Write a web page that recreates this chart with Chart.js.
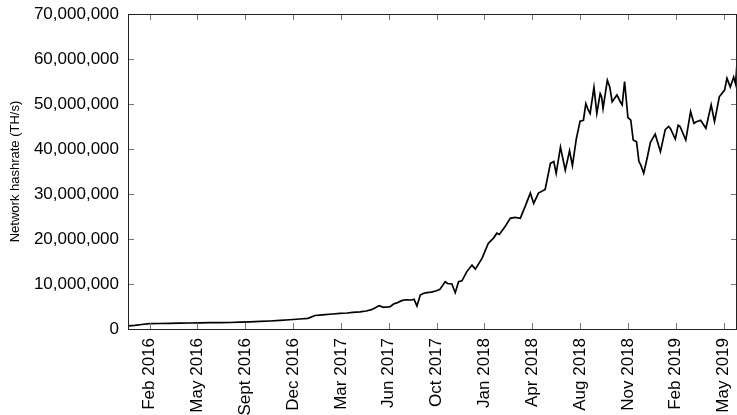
<!DOCTYPE html>
<html>
<head>
<meta charset="utf-8">
<script src="https://cdn.jsdelivr.net/npm/chart.js@4.4.1/dist/chart.umd.min.js"></script>
<style>
  html, body { margin: 0; padding: 0; background: #fff; }
  #wrap { width: 737px; height: 415px; }
</style>
</head>
<body>
<div id="wrap"><canvas id="chart"></canvas></div>
<script>
// days since 1 Jan 2016
const dayIndex = [
  0, 14, 29, 45, 66, 87, 108, 129, 150, 171, 192, 213, 234, 255, 276, 297, 318, 338, 359, 376,
  391, 401, 412, 428, 443, 458, 470, 485, 498, 509, 518, 525, 534, 544, 548, 555, 562, 572, 581, 593,
  598, 604, 611, 617, 625, 634, 645, 652, 663, 668, 677, 684, 691, 698, 708, 719, 726, 740, 753, 764,
  771, 776, 788, 799, 809, 820, 830, 841, 848, 858, 872, 883, 890, 895, 904, 914, 923, 929, 937, 945,
  952, 957, 962, 966, 974, 980, 987, 990, 993, 1002, 1007, 1012, 1022, 1029, 1033, 1038, 1045, 1051, 1056, 1063,
  1068, 1072, 1078, 1085, 1092, 1102, 1113, 1123, 1130, 1134, 1144, 1150, 1154, 1166, 1176, 1183, 1187, 1197, 1208, 1219,
  1226, 1236, 1247, 1252, 1259, 1266, 1270, 1273
];
// network hashrate, millions of TH/s
const hashrateMillions = [
  0.7, 0.8, 1.0, 1.18, 1.22, 1.27, 1.3, 1.33, 1.38, 1.4, 1.42, 1.45, 1.52, 1.58, 1.68, 1.78, 1.92, 2.05, 2.22, 2.38,
  3.0, 3.1, 3.2, 3.33, 3.48, 3.55, 3.7, 3.8, 4.0, 4.3, 4.8, 5.2, 4.8, 4.9, 4.95, 5.55, 5.8, 6.3, 6.5, 6.45,
  6.6, 5.1, 7.55, 7.9, 8.07, 8.2, 8.5, 8.8, 10.5, 10.1, 10.0, 8.07, 10.5, 10.7, 12.7, 14.2, 13.3, 15.7, 19.0, 20.2,
  21.3, 21.0, 22.7, 24.6, 24.8, 24.6, 27.2, 30.2, 27.9, 30.2, 31.0, 36.8, 37.2, 34.6, 40.4, 35.3, 39.6, 36.3, 42.2, 46.2,
  46.4, 50.1, 48.7, 47.9, 53.7, 47.9, 52.3, 51.6, 49.0, 55.3, 53.8, 50.5, 52.0, 50.5, 49.8, 55.0, 47.0, 46.4, 42.0, 41.6,
  37.2, 36.4, 34.6, 37.9, 41.5, 43.3, 39.4, 44.3, 45.0, 44.5, 42.2, 45.3, 45.0, 42.0, 48.3, 45.7, 46.0, 46.4, 44.6, 49.8,
  46.1, 51.6, 53.1, 55.7, 53.8, 56.0, 54.5, 59.0
];
const tickDays = [45, 145, 245, 345, 445, 545, 645, 745, 845, 945, 1045, 1145, 1245];
const tickLabels = ['Feb 2016', 'May 2016', 'Sept 2016', 'Dec 2016', 'Mar 2017', 'Jun 2017', 'Oct 2017',
  'Jan 2018', 'Apr 2018', 'Aug 2018', 'Nov 2018', 'Feb 2019', 'May 2019'];
const yTicks = [0, 10, 20, 30, 40, 50, 60, 70];

function withCommas(n) {
  return String(n).replace(/\B(?=(\d{3})+(?!\d))/g, ',');
}

// frame round the plot with small inward ticks on all four sides
const framePlugin = {
  id: 'frame',
  afterDraw(chart) {
    const { ctx, chartArea: a, scales } = chart;
    ctx.save();
    ctx.strokeStyle = '#777';
    ctx.lineWidth = 1;
    ctx.beginPath();
    scales.y.ticks.forEach(t => {
      const py = Math.round(scales.y.getPixelForValue(t.value)) + 0.5;
      ctx.moveTo(a.left, py); ctx.lineTo(a.left + 6, py);
      ctx.moveTo(a.right, py); ctx.lineTo(a.right - 6, py);
    });
    scales.x.ticks.forEach(t => {
      const px = Math.round(scales.x.getPixelForValue(t.value)) + 0.5;
      ctx.moveTo(px, a.bottom); ctx.lineTo(px, a.bottom - 6);
      ctx.moveTo(px, a.top); ctx.lineTo(px, a.top + 6);
    });
    ctx.stroke();
    ctx.strokeStyle = '#222';
    ctx.strokeRect(Math.round(a.left) + 0.5, Math.round(a.top) + 0.5,
      Math.round(a.right - a.left) - 1, Math.round(a.bottom - a.top));
    ctx.restore();
  }
};

new Chart(document.getElementById('chart'), {
  type: 'line',
  data: {
    datasets: [{
      data: dayIndex.map((d, i) => ({ x: d, y: hashrateMillions[i] })),
      borderColor: '#000',
      borderWidth: 1.7,
      pointRadius: 0,
      tension: 0,
      fill: false
    }]
  },
  options: {
    responsive: true,
    maintainAspectRatio: false,
    animation: false,
    layout: { padding: { top: 14, right: 0, left: 0, bottom: 0 } },
    plugins: { legend: { display: false }, tooltip: { enabled: false } },
    scales: {
      x: {
        type: 'linear',
        min: 0,
        max: 1273,
        grid: { display: false, drawTicks: false },
        border: { display: false },
        afterBuildTicks: s => { s.ticks = tickDays.map(v => ({ value: v })); },
        afterFit: s => { s.height = 86; s.paddingLeft = 0; s.paddingRight = 0; },
        ticks: {
          autoSkip: false,
          maxRotation: 90,
          minRotation: 90,
          padding: 9,
          color: '#000',
          font: { family: '"Liberation Sans", Arial, sans-serif', size: 17 },
          callback: (v, i) => tickLabels[i]
        }
      },
      y: {
        min: 0,
        max: 70,
        grid: { display: false, drawTicks: false },
        border: { display: false },
        afterBuildTicks: s => { s.ticks = yTicks.map(v => ({ value: v })); },
        afterFit: s => { s.width = 128; s.paddingTop = 0; s.paddingBottom = 0; },
        title: {
          display: true,
          text: 'Network hashrate (TH/s)',
          color: '#000',
          padding: { top: 8, bottom: 0 },
          font: { family: '"Liberation Sans", Arial, sans-serif', size: 13 }
        },
        ticks: {
          padding: 9,
          color: '#000',
          font: { family: '"Liberation Sans", Arial, sans-serif', size: 17 },
          callback: v => withCommas(v * 1000000)
        }
      }
    }
  },
  plugins: [framePlugin]
});
</script>
</body>
</html>
